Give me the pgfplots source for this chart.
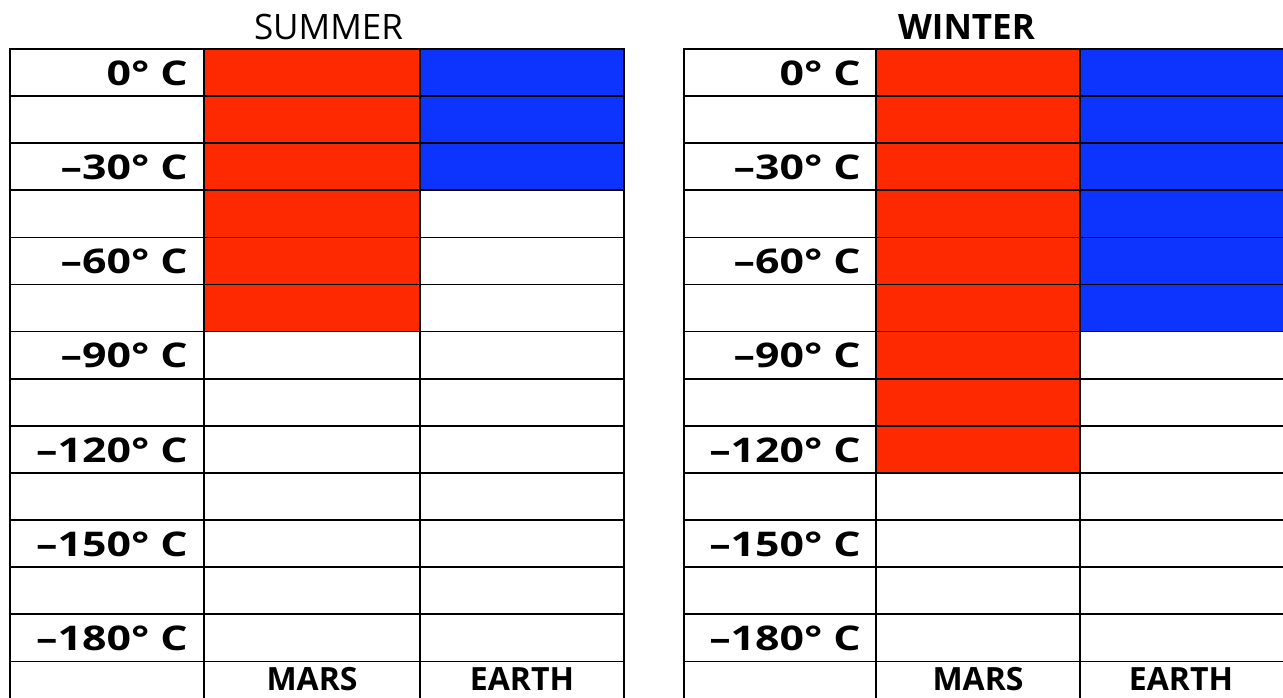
\documentclass[border=0pt]{standalone}
\usepackage{pgfplots}
\pgfplotsset{compat=1.18}
\usepackage{fontspec}
\setmainfont{Open Sans}
\definecolor{mred}{RGB}{255,41,0}
\definecolor{mblue}{RGB}{13,51,255}
\pgfplotsset{
  panel/.style={
    scale only axis, anchor=north west,
    height=659.4pt,
    ymin=0, ymax=14, y dir=reverse,
    ytick={1,...,13},
    xticklabels={}, yticklabels={},
    major tick length=0pt,
    grid=major,
    major grid style={black, line width=1.6pt},
    axis line style={black, line width=2.3pt},
    axis on top, clip=false,
  },
}
\tikzset{
  lab/.style={anchor=base east, inner sep=0pt, font=\fontsize{34}{36}\selectfont\bfseries},
  bot/.style={anchor=base, inner sep=0pt, font=\fontsize{32}{34}\selectfont\bfseries},
}
\newcommand{\lbl}[1]{\scalebox{1.26}[1]{#1}}
\begin{document}
\begin{tikzpicture}[x=1pt,y=1pt]
% SUMMER panel
\begin{axis}[panel, at={(10pt,649pt)}, width=614pt, xmin=10, xmax=624, xtick={204,420}]
\addplot[ybar, bar width=216, bar shift=0pt, fill=mred, draw=none] coordinates {(312,6)};
\addplot[ybar, bar width=204, bar shift=0pt, fill=mblue, draw=none] coordinates {(522,3)};
\node[lab] at (axis cs:188,0.77) {\lbl{0° C}};
\node[lab] at (axis cs:188,2.77) {\lbl{–30° C}};
\node[lab] at (axis cs:188,4.77) {\lbl{–60° C}};
\node[lab] at (axis cs:188,6.77) {\lbl{–90° C}};
\node[lab] at (axis cs:188,8.77) {\lbl{–120° C}};
\node[lab] at (axis cs:188,10.77) {\lbl{–150° C}};
\node[lab] at (axis cs:188,12.77) {\lbl{–180° C}};
\node[bot] at (axis cs:312,13.62) {MARS};
\node[bot] at (axis cs:522,13.62) {EARTH};
\end{axis}
% WINTER panel
\begin{axis}[panel, at={(684pt,649pt)}, width=601pt, xmin=684, xmax=1285, xtick={876,1080}]
\addplot[ybar, bar width=204, bar shift=0pt, fill=mred, draw=none] coordinates {(978,9)};
\addplot[ybar, bar width=205, bar shift=0pt, fill=mblue, draw=none] coordinates {(1182.5,6)};
\node[lab] at (axis cs:861,0.77) {\lbl{0° C}};
\node[lab] at (axis cs:861,2.77) {\lbl{–30° C}};
\node[lab] at (axis cs:861,4.77) {\lbl{–60° C}};
\node[lab] at (axis cs:861,6.77) {\lbl{–90° C}};
\node[lab] at (axis cs:861,8.77) {\lbl{–120° C}};
\node[lab] at (axis cs:861,10.77) {\lbl{–150° C}};
\node[lab] at (axis cs:861,12.77) {\lbl{–180° C}};
\node[bot] at (axis cs:978,13.62) {MARS};
\node[bot] at (axis cs:1181,13.62) {EARTH};
\end{axis}
\node[anchor=base, inner sep=0pt, font=\fontsize{35}{38}\selectfont] at (328.5,658) {SUMMER};
\node[anchor=base, inner sep=0pt, font=\fontsize{35}{38}\selectfont\bfseries] at (966.5,658) {WINTER};
\pgfresetboundingbox
\path[use as bounding box] (0,0) rectangle (1283,698);
\end{tikzpicture}
\end{document}
